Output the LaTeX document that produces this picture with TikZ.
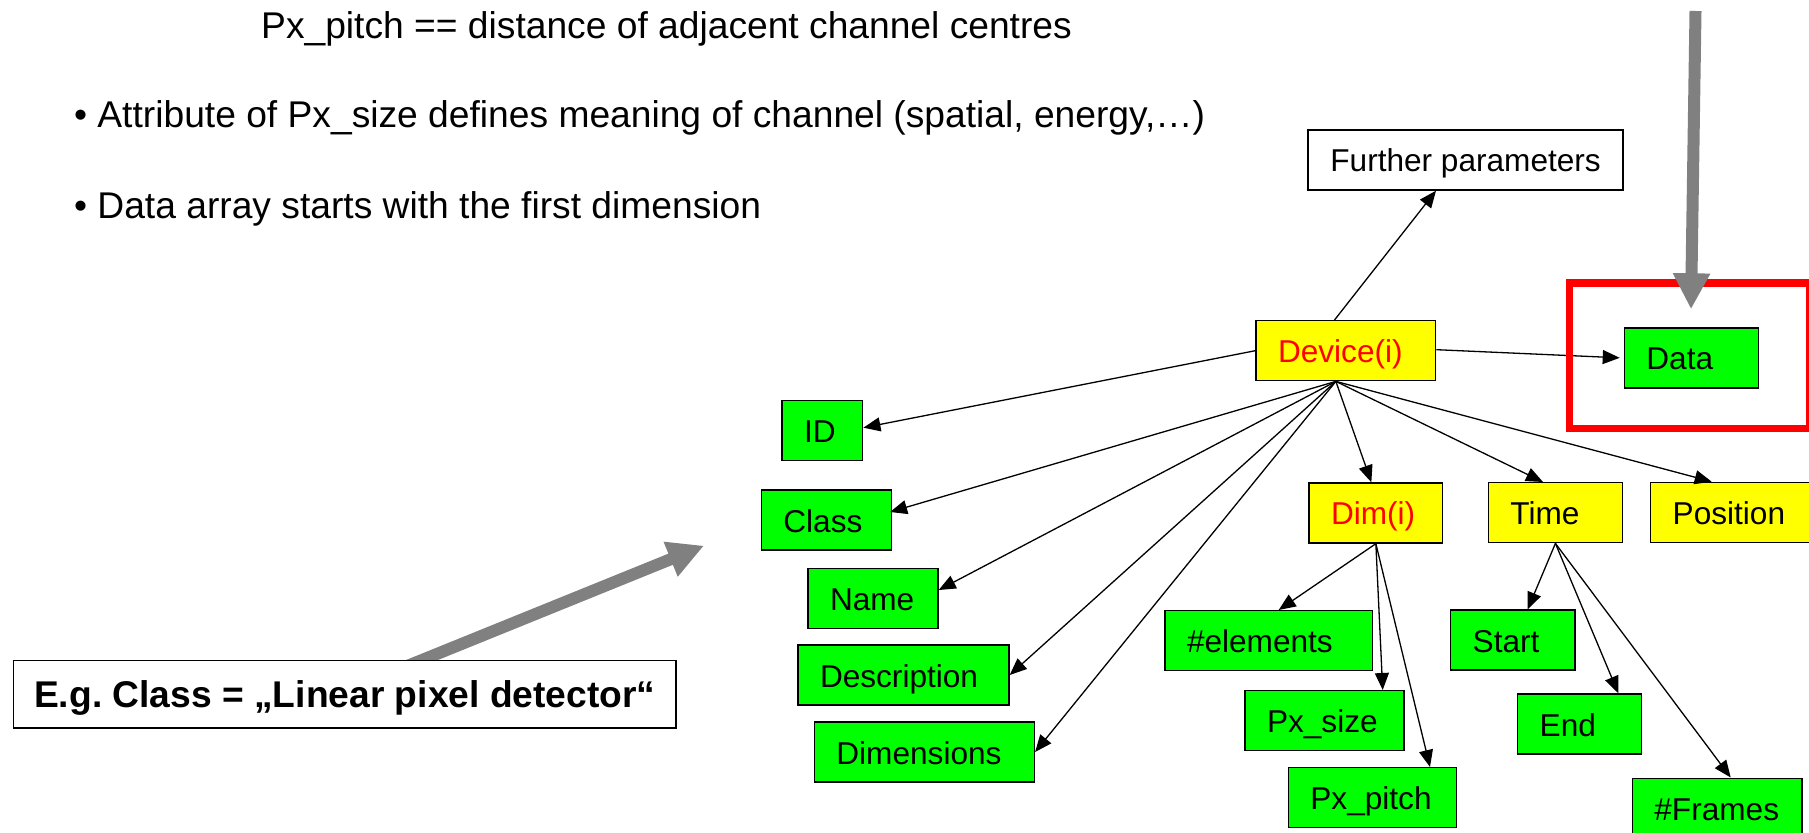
\documentclass[tikz,border=0pt]{standalone}
\usepackage{fontspec}
\setmainfont{Liberation Sans}
\usetikzlibrary{arrows.meta,calc,backgrounds}
\definecolor{boxgreen}{RGB}{0,255,0}
\definecolor{boxyellow}{RGB}{255,255,0}
\definecolor{hlred}{RGB}{255,0,0}
\definecolor{pointergray}{RGB}{128,128,128}
\frenchspacing

\begin{document}
\begin{tikzpicture}[x=0.5pt,y=-0.5pt,
  lbl/.style={anchor=north west, draw=black, line width=0.7pt,
    inner xsep=11pt, inner ysep=9pt, text height=12pt, text depth=0pt,
    align=left, font=\fontsize{15.8}{19}\selectfont},
  gbox/.style={lbl, fill=boxgreen},
  ybox/.style={lbl, fill=boxyellow},
  wbox/.style={lbl, fill=white, align=center},
  link/.style={draw=black, line width=0.65pt, -{Triangle[length=8.5pt,width=7pt]}},
  pointer/.style={draw=pointergray, line width=6pt, -{Triangle[length=18pt,width=17.5pt]}},
  note/.style={anchor=base west, inner sep=0pt, font=\fontsize{18.6}{22}\selectfont}
]
\useasboundingbox (0,0) rectangle (1809,833);
\clip (0,0) rectangle (1809,833);

% explanatory notes
\node[note] (l1) at (260.8,39) {Px\_pitch == distance of adjacent channel centres};
\node[note] (l2) at (73.7,127.3) {• Attribute of Px\_size defines meaning of channel (spatial, energy,…)};
\node[note] (l3) at (73.7,218.3) {• Data array starts with the first dimension};

% device tree
\node[ybox, text width=67.85pt, text=hlred] (dev) at (1255.3,320) {Device(i)};
\node[wbox, minimum width=157.5pt] (fp) at (1307.4,129.3) {Further parameters};
\node[gbox, text width=45.15pt] (data) at (1623.7,327.3) {Data};
\node[gbox, text width=18.35pt] (id) at (781.3,400) {ID};
\node[gbox, text width=43pt] (cls) at (760.7,489.3) {Class};
\node[gbox, text width=43pt] (nm) at (807.3,568) {Name};
\node[gbox, text width=83.5pt] (desc) at (797.3,644.3) {Description};
\node[gbox, text width=88pt] (dims) at (813.7,721.3) {Dimensions};
\node[ybox, text width=44.85pt, text=hlred] (dim) at (1308.3,482.3) {Dim(i)};
\node[ybox, text width=45pt] (time) at (1487.7,482) {Time};
\node[ybox, text width=68pt] (pos) at (1650,481.7) {Position};
\node[gbox, text width=81.7pt] (elem) at (1164.3,610) {\#elements};
\node[gbox, text width=57.5pt] (psize) at (1244.3,690) {Px\_size};
\node[gbox, text width=62.15pt] (ppitch) at (1287.7,767) {Px\_pitch};
\node[gbox, text width=40.15pt] (tstart) at (1450,609.3) {Start};
\node[gbox, text width=39.85pt] (tend) at (1517,693.3) {End};
\node[gbox, text width=62.8pt] (frames) at (1631.7,777.5) {\#Frames};

% connectors
\coordinate (fan) at ($(dev.south)+(-10,0)$);
\draw[link] ($(dev.north west)+(79.2,0)$) -- ($(fp.south west)+(128.6,0)$);
\draw[link, shorten >=2pt] ($(dev.east)+(0,-1)$) -- (data.west);
\draw[link] (dev.west) -- ($(id.east)+(0,-3)$);
\draw[link] (fan) -- ($(cls.east)+(-2,-8)$);
\draw[link] (fan) -- ($(nm.east)+(0,-8.7)$);
\draw[link] (fan) -- (desc.east);
\draw[link] (fan) -- (dims.east);
\draw[link] (fan) -- ($(dim.north)+(-4.5,0)$);
\draw[link] (fan) -- ($(time.north)+(-12.4,0)$);
\draw[link] (fan) -- ($(pos.north west)+(61.7,0)$);
\draw[link] (dim.south) -- ($(elem.north west)+(114.4,0)$);
\draw[link] (dim.south) -- ($(psize.north west)+(138.4,0)$);
\draw[link] (dim.south) -- ($(ppitch.north west)+(142.3,0)$);
\draw[link] (time.south) -- ($(tstart.north west)+(77.7,0)$);
\draw[link] (time.south) -- ($(tend.north west)+(101.3,0)$);
\draw[link] (time.south) -- ($(frames.north west)+(99,0)$);

% highlight frame round the data node and its pointer
\draw[hlred, line width=3.65pt] (1569.7,283) rectangle (1809.5,428.5);
\coordinate (dtop) at (1695.5,11);
\coordinate (dtip) at (1691,309.3);
\draw[pointer] (dtop) -- (dtip);

% example annotation with its pointer
\node[draw=black, line width=0.7pt, fill=white, anchor=north west,
  minimum width=331.2pt, text height=13.3pt, text depth=0pt,
  inner ysep=10.2pt, inner xsep=0pt,
  font=\bfseries\fontsize{18.6}{22}\selectfont] (eg) at (12.9,660)
  {E.g.\ Class = „Linear pixel detector“};
\coordinate (egtip) at (704,545.7);
\begin{pgfonlayer}{background}
\draw[pointer] ($(eg.north west)+(389.4,8)$) -- (egtip);
\end{pgfonlayer}
\end{tikzpicture}
\end{document}
